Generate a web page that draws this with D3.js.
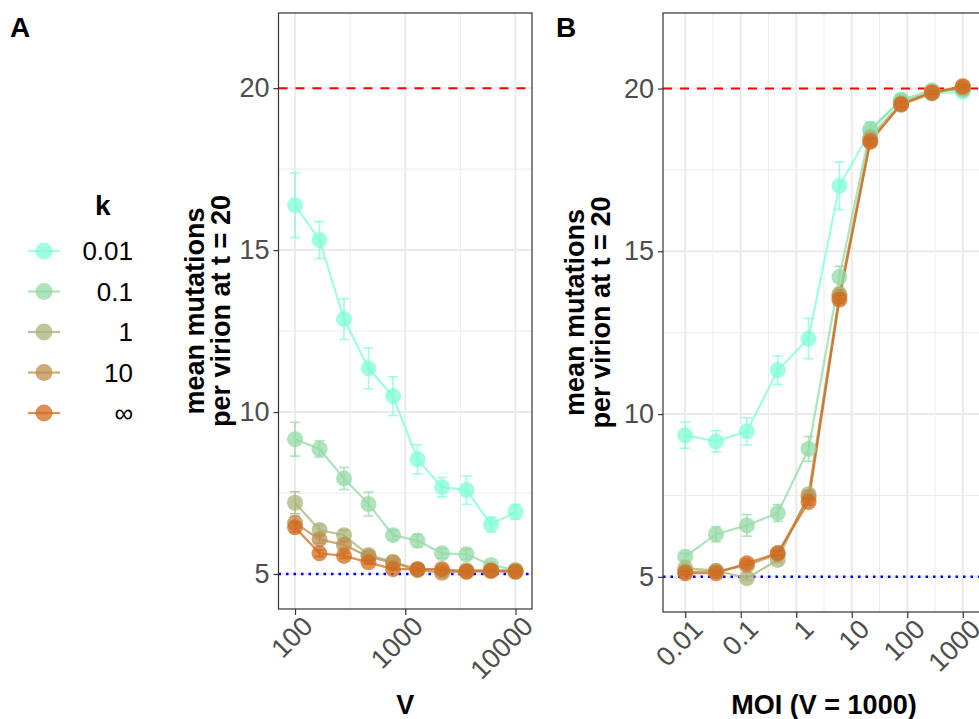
<!DOCTYPE html>
<html>
<head>
<meta charset="utf-8">
<script src="https://cdn.jsdelivr.net/npm/d3@7"></script>
<style>
  body { margin: 0; background: #fff; }
  svg { display: block; font-family: 'Liberation Sans', Arial, sans-serif; }
</style>
</head>
<body>
<div id="chart"></div>
<script>
const kLabels = ['0.01', '0.1', '1', '10', '\u221e'];
const kColors = ['#7FFFD4', '#94D9A6', '#A8B479', '#BD8E4B', '#D2691E'];

// panel A: varying V
const vValues = [100, 166.8, 278.3, 464.2, 774.3, 1291.5, 2154.4, 3593.8, 5994.8, 10000];
const meanByV = [
   [16.39, 15.31, 12.87, 11.35, 10.49, 8.54, 7.68, 7.59, 6.53, 6.92],
   [9.16, 8.86, 7.95, 7.16, 6.20, 6.03, 5.64, 5.61, 5.28, 5.12],
   [7.20, 6.36, 6.20, 5.59, 5.38, 5.15, 5.10, 5.12, 5.12, 5.12],
   [6.58, 6.07, 5.90, 5.53, 5.35, 5.12, 5.04, 5.08, 5.10, 5.08],
   [6.44, 5.64, 5.56, 5.36, 5.15, 5.15, 5.15, 5.07, 5.10, 5.07]
];
const seByV = [
   [1.0, 0.57, 0.63, 0.63, 0.6, 0.45, 0.3, 0.44, 0.23, 0.23],
   [0.52, 0.25, 0.34, 0.37, 0.15, 0.2, 0.15, 0.15, 0.1, 0.08],
   [0.34, 0.15, 0.15, 0.1, 0.08, 0.05, 0.05, 0.05, 0.05, 0.05],
   [0.2, 0.12, 0.1, 0.08, 0.06, 0.05, 0.04, 0.04, 0.04, 0.04],
   [0.15, 0.1, 0.08, 0.06, 0.04, 0.04, 0.04, 0.03, 0.03, 0.03]
];

// panel B: varying MOI
const moiValues = [0.01, 0.0359, 0.1292, 0.4642, 1.6681, 5.9948, 21.544, 77.426, 278.26, 1000];
const meanByMoi = [
   [9.35, 9.16, 9.47, 11.35, 12.32, 17.01, 18.68, 19.65, 19.85, 19.9],
   [5.62, 6.31, 6.58, 6.96, 8.93, 14.21, 18.75, 19.65, 19.95, 19.95],
   [5.27, 5.19, 4.96, 5.52, 7.54, 13.68, 18.5, 19.55, 19.9, 20.0],
   [5.15, 5.17, 5.35, 5.70, 7.45, 13.6, 18.4, 19.5, 19.85, 20.05],
   [5.11, 5.11, 5.42, 5.73, 7.30, 13.52, 18.36, 19.52, 19.88, 20.07]
];
const seByMoi = [
   [0.4, 0.33, 0.42, 0.44, 0.62, 0.73, 0.3, 0.2, 0.1, 0.1],
   [0.1, 0.23, 0.33, 0.26, 0.38, 0.33, 0.2, 0.15, 0.1, 0.08],
   [0.08, 0.06, 0.06, 0.08, 0.12, 0.15, 0.12, 0.1, 0.06, 0.05],
   [0.06, 0.05, 0.06, 0.08, 0.1, 0.12, 0.1, 0.08, 0.05, 0.04],
   [0.05, 0.05, 0.06, 0.07, 0.1, 0.12, 0.1, 0.08, 0.05, 0.04]
];

const vTicks = [100, 1000, 10000];
const vTickLabels = ['100', '1000', '10000'];
const vMinor = [316.2, 3162.3];
const moiTicks = [0.01, 0.1, 1, 10, 100, 1000];
const moiTickLabels = ['0.01', '0.1', '1', '10', '100', '1000'];
const moiMinor = [0.0316, 0.316, 3.162, 31.62, 316.2];
const yTicks = [5, 10, 15, 20];
const yMinor = [7.5, 12.5, 17.5];
const upperLimit = 20;
const lowerLimit = 5;

const width = 979, height = 719;
const pointAlpha = 0.75;

const svg = d3.select('#chart').append('svg')
   .attr('width', width)
   .attr('height', height);

function drawPanel(p) {
   let x = d3.scaleLog().domain(p.xDomain).range([p.left, p.right]);
   let y = d3.scaleLinear().domain([3.92, 22.32]).range([p.bottom, p.top]);

   let g = svg.append('g');

   // grid
   g.selectAll('.minor-x').data(p.minor).enter().append('line')
      .attr('x1', d => x(d)).attr('x2', d => x(d))
      .attr('y1', p.top).attr('y2', p.bottom)
      .attr('stroke', '#EBEBEB').attr('stroke-width', 1);
   g.selectAll('.minor-y').data(yMinor).enter().append('line')
      .attr('x1', p.left).attr('x2', p.right)
      .attr('y1', d => y(d)).attr('y2', d => y(d))
      .attr('stroke', '#EBEBEB').attr('stroke-width', 1);
   g.selectAll('.major-x').data(p.ticks).enter().append('line')
      .attr('x1', d => x(d)).attr('x2', d => x(d))
      .attr('y1', p.top).attr('y2', p.bottom)
      .attr('stroke', '#EBEBEB').attr('stroke-width', 2);
   g.selectAll('.major-y').data(yTicks).enter().append('line')
      .attr('x1', p.left).attr('x2', p.right)
      .attr('y1', d => y(d)).attr('y2', d => y(d))
      .attr('stroke', '#EBEBEB').attr('stroke-width', 2);

   // reference lines
   g.append('line')
      .attr('x1', p.left).attr('x2', p.right)
      .attr('y1', y(upperLimit)).attr('y2', y(upperLimit))
      .attr('stroke', '#FF0000').attr('stroke-width', 2)
      .attr('stroke-dasharray', '9,8');
   g.append('line')
      .attr('x1', p.left).attr('x2', p.right)
      .attr('y1', y(lowerLimit)).attr('y2', y(lowerLimit))
      .attr('stroke', '#0000FF').attr('stroke-width', 2.5)
      .attr('stroke-dasharray', '2.5,5');

   let series = kLabels.map((k, i) => p.xValues.map((xv, j) => ({
      x: xv, mean: p.means[i][j], se: p.ses[i][j], color: kColors[i]
   })));

   let line = d3.line().x(d => x(d.x)).y(d => y(d.mean));

   series.forEach(s => {
      g.append('path')
         .datum(s)
         .attr('d', line)
         .attr('fill', 'none')
         .attr('stroke', s[0].color)
         .attr('stroke-opacity', pointAlpha)
         .attr('stroke-width', 2.2);
   });

   series.forEach(s => {
      let sg = g.append('g');
      sg.selectAll('circle').data(s).enter().append('circle')
         .attr('cx', d => x(d.x))
         .attr('cy', d => y(d.mean))
         .attr('r', 8)
         .attr('fill', d => d.color)
         .attr('fill-opacity', pointAlpha);
      let eb = sg.selectAll('.eb').data(s).enter().append('g')
         .attr('stroke', d => d.color)
         .attr('stroke-opacity', pointAlpha)
         .attr('stroke-width', 1.6);
      eb.append('line')
         .attr('x1', d => x(d.x)).attr('x2', d => x(d.x))
         .attr('y1', d => y(d.mean + d.se)).attr('y2', d => y(d.mean - d.se));
      eb.append('line')
         .attr('x1', d => x(d.x) - 5).attr('x2', d => x(d.x) + 5)
         .attr('y1', d => y(d.mean + d.se)).attr('y2', d => y(d.mean + d.se));
      eb.append('line')
         .attr('x1', d => x(d.x) - 5).attr('x2', d => x(d.x) + 5)
         .attr('y1', d => y(d.mean - d.se)).attr('y2', d => y(d.mean - d.se));
   });

   // panel border
   g.append('rect')
      .attr('x', p.left).attr('y', p.top)
      .attr('width', p.right - p.left).attr('height', p.bottom - p.top)
      .attr('fill', 'none').attr('stroke', '#333333').attr('stroke-width', 1.2);

   // axes
   let xAxis = d3.axisBottom(x)
      .tickValues(p.ticks)
      .tickFormat((d, i) => p.tickLabels[i])
      .tickSize(6);
   let xg = g.append('g')
      .attr('transform', `translate(0, ${p.bottom})`)
      .call(xAxis);
   xg.select('.domain').remove();
   xg.selectAll('line').attr('stroke', '#333333').attr('stroke-width', 1.2);
   xg.selectAll('text')
      .attr('fill', '#4D4D4D')
      .style('font-size', '27px')
      .attr('text-anchor', 'end')
      .attr('x', 0).attr('y', 0).attr('dy', '0.72em')
      .attr('transform', 'translate(5, 5) rotate(-45)');

   let yAxis = d3.axisLeft(y).tickValues(yTicks).tickSize(5).tickPadding(4);
   let yg = g.append('g')
      .attr('transform', `translate(${p.left}, 0)`)
      .call(yAxis);
   yg.select('.domain').remove();
   yg.selectAll('line').attr('stroke', '#333333').attr('stroke-width', 1.2);
   yg.selectAll('text')
      .attr('fill', '#4D4D4D')
      .style('font-size', '27px');

   // titles
   svg.append('text')
      .attr('x', (p.left + p.right) / 2)
      .attr('y', 714)
      .attr('text-anchor', 'middle')
      .style('font-size', '27px')
      .style('font-weight', 'bold')
      .text(p.xTitle);

   ['mean mutations', 'per virion at t = 20'].forEach((t, i) => {
      svg.append('text')
         .attr('transform', `translate(${p.yTitleX + i * 26}, ${(p.top + p.bottom) / 2}) rotate(-90)`)
         .attr('text-anchor', 'middle')
         .style('font-size', '27px')
         .style('font-weight', 'bold')
         .text(t);
   });

   svg.append('text')
      .attr('x', p.letterX)
      .attr('y', 37)
      .style('font-size', '28px')
      .style('font-weight', 'bold')
      .text(p.letter);
}

drawPanel({
   letter: 'A', letterX: 10,
   left: 278.5, right: 532, top: 13, bottom: 609,
   xDomain: [Math.pow(10, 1.85), Math.pow(10, 4.15)],
   xValues: vValues, means: meanByV, ses: seByV,
   ticks: vTicks, tickLabels: vTickLabels, minor: vMinor,
   xTitle: 'V', yTitleX: 204
});

drawPanel({
   letter: 'B', letterX: 556,
   left: 663, right: 985, top: 13, bottom: 612,
   xDomain: [Math.pow(10, -2.4), Math.pow(10, 3.4)],
   xValues: moiValues, means: meanByMoi, ses: seByMoi,
   ticks: moiTicks, tickLabels: moiTickLabels, minor: moiMinor,
   xTitle: 'MOI (V = 1000)', yTitleX: 584
});

// legend
let legend = svg.append('g');
legend.append('text')
   .attr('x', 95).attr('y', 215)
   .style('font-size', '28px')
   .style('font-weight', 'bold')
   .text('k');

let items = legend.selectAll('.item')
   .data(kLabels)
   .enter().append('g')
   .attr('transform', (d, i) => `translate(0, ${251 + i * 40.5})`);

items.append('line')
   .attr('x1', 28).attr('x2', 60)
   .attr('stroke', (d, i) => kColors[i])
   .attr('stroke-opacity', pointAlpha)
   .attr('stroke-width', 2.2);
items.append('circle')
   .attr('cx', 44).attr('r', 8.5)
   .attr('fill', (d, i) => kColors[i])
   .attr('fill-opacity', pointAlpha);
items.append('text')
   .attr('x', 133).attr('dy', '0.35em')
   .attr('text-anchor', 'end')
   .style('font-size', '26px')
   .text(d => d);
</script>
</body>
</html>
